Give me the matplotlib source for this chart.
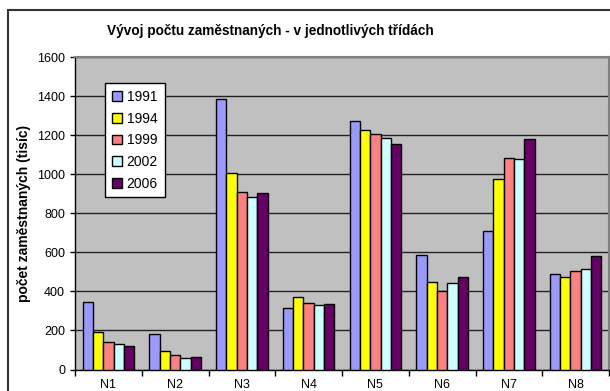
import numpy as np
import matplotlib.pyplot as plt
from matplotlib.patches import Rectangle

plt.rcParams['font.family'] = ['Liberation Sans', 'DejaVu Sans']

categories = ['N1', 'N2', 'N3', 'N4', 'N5', 'N6', 'N7', 'N8']
years = ['1991', '1994', '1999', '2002', '2006']
values = {
    '1991': [344, 181, 1385, 316, 1271, 586, 711, 489],
    '1994': [192, 97, 1007, 371, 1227, 446, 976, 472],
    '1999': [140, 73, 909, 342, 1205, 400, 1082, 503],
    '2002': [130, 58, 884, 332, 1186, 443, 1080, 515],
    '2006': [118, 63, 904, 333, 1153, 474, 1179, 580],
}
colors = ['#9999FF', '#FFFF00', '#FF8080', '#CCFFFF', '#660066']

fig = plt.figure(figsize=(6.1, 3.91), dpi=100)
ax = fig.add_axes([75 / 610, 1 - 369.5 / 391, 534 / 610, 312.5 / 391])
ax.set_facecolor('#C0C0C0')

x = np.arange(len(categories))
w = 0.154
for k, (year, col) in enumerate(zip(years, colors)):
    ax.bar(x + (k - 2) * w, values[year], width=w, color=col,
           edgecolor='black', linewidth=1.0, label=year, zorder=3)

ax.set_xlim(-0.5, len(categories) - 0.5)
ax.set_ylim(0, 1600)
ax.set_yticks(range(0, 1601, 200))
ax.yaxis.grid(True, color='#222222', linewidth=1.0, zorder=0)
ax.set_axisbelow(True)

ax.set_xticks(x)
ax.set_xticklabels(categories)
ax.set_xticks(np.arange(-0.5, len(categories)), minor=True)
ax.tick_params(axis='x', which='major', length=0, labelsize=9, pad=6.5)
ax.tick_params(axis='x', which='minor', length=4, width=1, direction='out')
ax.tick_params(axis='y', length=3.6, width=1, direction='out', labelsize=9, pad=3.5)

for side in ['top', 'right']:
    ax.spines[side].set_color('#808080')
    ax.spines[side].set_linewidth(1.5)
for side in ['left', 'bottom']:
    ax.spines[side].set_color('black')
    ax.spines[side].set_linewidth(1.0)

ax.set_ylabel('počet zaměstnaných (tisíc)', fontsize=10, fontweight='bold')
ax.yaxis.set_label_coords(-0.083, 0.5)

leg = ax.legend(loc='upper left', bbox_to_anchor=(30 / 534, 1 - 26 / 312.5),
                fontsize=10, frameon=True, fancybox=False, framealpha=1,
                edgecolor='black', handlelength=0.7, handleheight=0.7,
                handletextpad=0.35, labelspacing=0.55, borderpad=0.5,
                borderaxespad=0)
leg.get_frame().set_linewidth(1.0)

fig.text(270 / 610, 1 - 31 / 391, 'Vývoj počtu zaměstnaných - v jednotlivých třídách',
         ha='center', va='center', fontsize=9.8, fontweight='bold')

# chart frame (runs off the right and bottom edge)
fig.patches.append(Rectangle((8 / 610, -0.2), 1.2, 1.2 - 10 / 391,
                             transform=fig.transFigure, fill=False,
                             edgecolor='#333333', linewidth=1.5))

fig.savefig('out.png', dpi=100)
